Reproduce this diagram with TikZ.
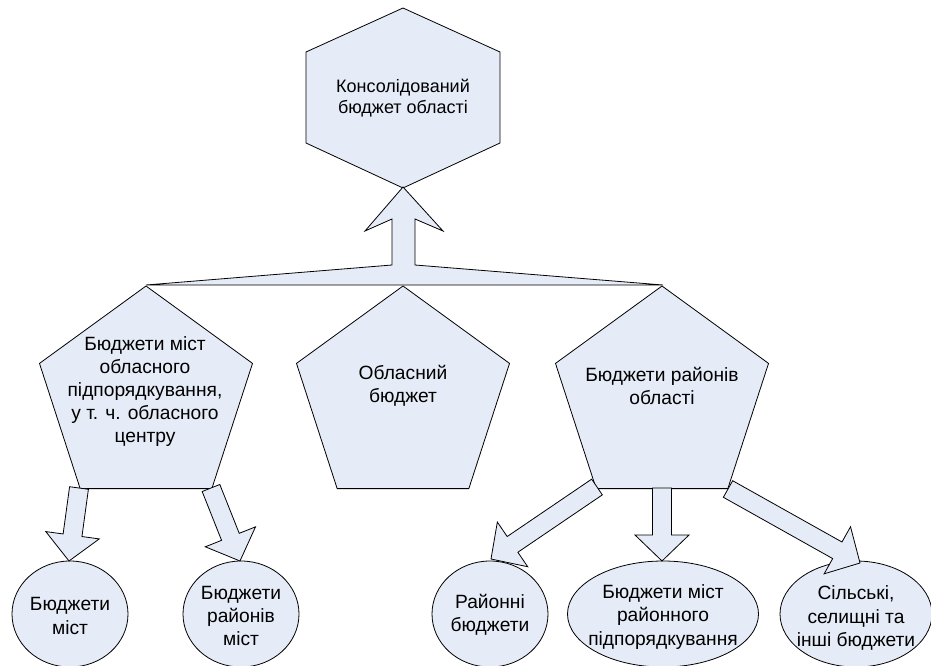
\documentclass[tikz,border=0pt]{standalone}
\usepackage{fontspec}
\setmainfont{Liberation Sans}
\usetikzlibrary{calc,shapes.geometric}
\definecolor{boxfill}{RGB}{230,236,247}
\tikzset{
  shapefill/.style={draw=black, fill=boxfill, line width=0.8pt, line join=miter},
  ptxt/.style={align=center, inner sep=0pt, font=\fontsize{19.2}{23}\selectfont},
  etxt/.style={align=center, inner sep=0pt, font=\fontsize{19.2}{23.3}\selectfont},
  htxt/.style={align=center, inner sep=0pt, font=\fontsize{18}{20.5}\selectfont},
  ellbox/.style={shapefill, ellipse, inner sep=0pt, minimum height=106pt},
}
\newcommand\blockarrow[2]{%
  \draw[shapefill] let \p1=($(#2)-(#1)$), \n1={atan2(\y1,\x1)}, \n2={veclen(\x1,\y1)-26} in
    ($(#1)+({\n1+90}:9.5pt)$)
    -- ($(#1)+({\n1}:\n2)+({\n1+90}:9.5pt)$)
    -- ($(#1)+({\n1}:\n2)+({\n1+90}:27pt)$)
    -- (#2)
    -- ($(#1)+({\n1}:\n2)+({\n1-90}:27pt)$)
    -- ($(#1)+({\n1}:\n2)+({\n1-90}:9.5pt)$)
    -- ($(#1)+({\n1-90}:9.5pt)$) -- cycle;}
\newcommand\pentagon[1]{%
  \draw[shapefill] ($(#1)+(90:112pt)$) -- ($(#1)+(162:112pt)$) -- ($(#1)+(234:112pt)$)
    -- ($(#1)+(306:112pt)$) -- ($(#1)+(18:112pt)$) -- cycle;}
\begin{document}
\begin{tikzpicture}[x=1pt,y=-1pt]
\useasboundingbox (0,0) rectangle (931,666);
% hexagon
\draw[shapefill] (403,8) -- (500,52) -- (500,143) -- (403,188) -- (306,143) -- (306,52) -- cycle;
\node[htxt] (hex) at (403,98) {Консолідований\\бюджет області};
% big arrow with bar
\draw[shapefill] (146,285) -- (392,265) -- (392,219) -- (365,231) -- (403,187)
  -- (443,231) -- (415,219) -- (415,265) -- (663,285) -- cycle;
% pentagons
\coordinate (pL) at (146,398);
\coordinate (pM) at (403,398);
\coordinate (pR) at (662,398);
\pentagon{pL}
\pentagon{pM}
\pentagon{pR}
\node[ptxt] (tL) at (145,392) {Бюджети міст\\обласного\\підпорядкування,\\у т. ч. обласного\\центру};
\node[ptxt] (tM) at (403,386) {Обласний\\бюджет};
\node[ptxt] (tR) at (662,386) {Бюджети районів\\області};
% ellipses
\node[ellbox, minimum width=116pt] (e1) at (70,614) {};
\node[ellbox, minimum width=116pt] (e2) at (241,614) {};
\node[ellbox, minimum width=116pt] (e3) at (490,614) {};
\node[ellbox, minimum width=191pt] (e4) at (663,614) {};
\node[ellbox, minimum width=152pt] (e5) at (856,614) {};
\node[etxt] (t1) at (70,616) {Бюджети\\міст};
\node[etxt] (t2) at (241,616) {Бюджети\\районів\\міст};
\node[etxt] (t3) at (490,615) {Районні\\бюджети};
\node[etxt] (t4) at (663,617) {Бюджети міст\\районного\\підпорядкування};
\node[etxt] (t5) at (856,618) {Сільські,\\селищні та\\інші бюджети};
% small arrows
\coordinate (s1) at (79,488);  \coordinate (f1) at (69,561);
\coordinate (s2) at (211,488); \coordinate (f2) at (240,561);
\coordinate (s3) at (597,487); \coordinate (f3) at (491,559);
\coordinate (s4) at (662,488); \coordinate (f4) at (662,561);
\coordinate (s5) at (728,489); \coordinate (f5) at (860,563);
\blockarrow{s1}{f1}
\blockarrow{s2}{f2}
\blockarrow{s3}{f3}
\blockarrow{s4}{f4}
\blockarrow{s5}{f5}
\end{tikzpicture}
\end{document}
